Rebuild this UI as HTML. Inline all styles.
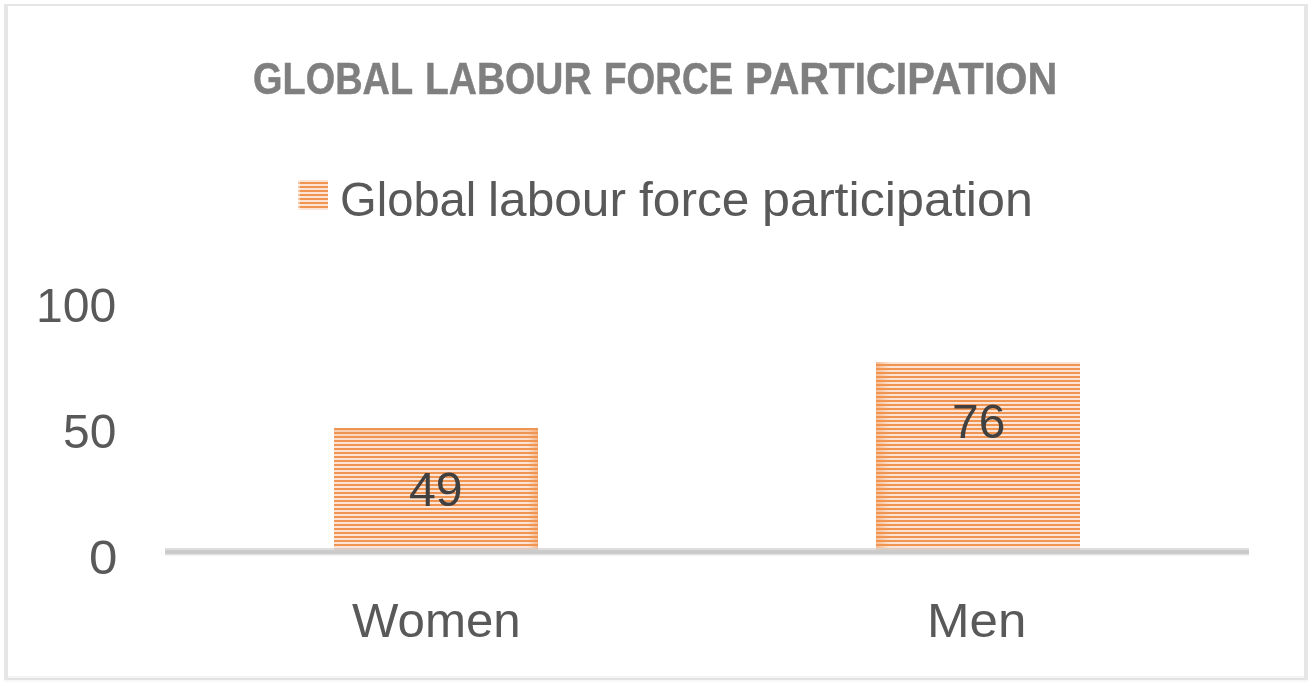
<!DOCTYPE html>
<html lang="en">
<head>
<meta charset="utf-8">
<title>Global labour force participation</title>
<style>
html,body{margin:0;padding:0;background:#fff;}
body{width:1312px;height:684px;position:relative;overflow:hidden;font-family:"Liberation Sans",sans-serif;}
.abs{position:absolute;}
.t{position:absolute;white-space:nowrap;line-height:1;transform-origin:0 0;color:#595959;font-size:49px;}
.title{font-weight:bold;color:#7f7f7f;font-size:44.5px;-webkit-text-stroke:0.5px #7f7f7f;}
.dl{color:#404040;}
#frame-l{left:4px;top:4px;width:4px;height:676px;background:#e6e6e6;}
#frame-r{left:1304px;top:4px;width:4px;height:676px;background:#e6e6e6;}
#frame-t{left:4px;top:4px;width:1304px;height:2px;background:#e6e6e6;}
#frame-b{left:4px;top:676px;width:1304px;height:6px;background:linear-gradient(#f4f4f4 0,#f4f4f4 2px,#e2e2e2 2px,#e2e2e2 4px,#f8f8f8 4px,#f8f8f8 6px);}
.stripes{background-image:repeating-linear-gradient(to bottom,#f09452 0,#f09452 2px,#fbe4d5 2px,#fbe4d5 4px);}
#swatch{left:298px;top:180px;width:30px;height:30px;background-image:linear-gradient(to right,rgba(255,255,255,.45) 0,rgba(255,255,255,.45) 2px,rgba(255,255,255,0) 2px),repeating-linear-gradient(to bottom,#fbe4d5 0,#fbe4d5 2px,#f09452 2px,#f09452 4px);}
#axis{left:165px;top:548px;width:1084px;height:8px;background:linear-gradient(#dedede 0,#dedede 2px,#cbcbcb 2px,#cbcbcb 6px,#e2e2e2 6px,#e2e2e2 7px,#f3f3f3 7px,#f3f3f3 8px);}
#bar1{left:334px;top:428px;width:204px;height:120px;}
#bar1:after{content:"";position:absolute;right:0;top:0;width:100%;height:100%;background:linear-gradient(to right,rgba(240,148,82,0) 194px,rgba(240,148,82,.55) 204px),linear-gradient(to bottom,rgba(240,148,82,.35),rgba(240,148,82,0) 14px);}
#bar2{left:876px;top:362px;width:204px;height:186px;background-image:repeating-linear-gradient(to bottom,#fbe4d5 0,#fbe4d5 2px,#f09452 2px,#f09452 4px);}
#bar2:after{content:"";position:absolute;left:0;top:0;width:14px;height:100%;background:linear-gradient(to left,rgba(240,148,82,0),rgba(240,148,82,.5));}
.foot{height:2px;top:548px;width:204px;background:#dccbc0;}
#foot1{left:334px;}
#foot2{left:876px;}

#tt1{left:252.80px;top:56.90px;transform:scaleX(0.8520);}
#tt2{left:425.00px;top:56.90px;transform:scaleX(0.8754);}
#tt3{left:604.00px;top:56.90px;transform:scaleX(0.8292);}
#tt4{left:744.80px;top:56.90px;transform:scaleX(0.9291);}
#lg1{left:340.00px;top:174.90px;transform:scaleX(0.9624);}
#lg2{left:488.40px;top:174.90px;transform:scaleX(1.0128);}
#lg3{left:639.00px;top:174.90px;transform:scaleX(1.0133);}
#lg4{left:761.80px;top:174.90px;transform:scaleX(1.0254);}
#y100{left:35.60px;top:280.90px;transform:scaleX(0.9826);}
#y50{left:63.00px;top:407.10px;transform:scaleX(0.9786);}
#y0{left:88.70px;top:532.90px;transform:scaleX(1.0422);}
#d49{left:409.20px;top:465.00px;transform:scaleX(0.9841);}
#d76{left:952.10px;top:396.90px;transform:scaleX(0.9786);}
#women{left:351.60px;top:595.90px;transform:scaleX(1.0049);}
#men{left:927.00px;top:595.90px;transform:scaleX(1.0434);}
</style>
</head>
<body>
<div class="abs" id="frame-t"></div>
<div class="abs" id="frame-b"></div>
<div class="abs" id="frame-l"></div>
<div class="abs" id="frame-r"></div>
<div class="abs" id="swatch"></div>
<div class="abs" id="axis"></div>
<div class="abs stripes" id="bar1"></div>
<div class="abs" id="bar2"></div>
<div class="abs foot" id="foot1"></div>
<div class="abs foot" id="foot2"></div>
<h1 style="margin:0;font-size:inherit;font-weight:inherit"><span class="t title" id="tt1">GLOBAL</span> <span class="t title" id="tt2">LABOUR</span> <span class="t title" id="tt3">FORCE</span> <span class="t title" id="tt4">PARTICIPATION</span></h1>
<div><span class="t" id="lg1">Global</span> <span class="t" id="lg2">labour</span> <span class="t" id="lg3">force</span> <span class="t" id="lg4">participation</span></div>
<div><span class="t" id="y100">100</span></div>
<div><span class="t" id="y50">50</span></div>
<div><span class="t" id="y0">0</span></div>
<div><span class="t dl" id="d49">49</span></div>
<div><span class="t dl" id="d76">76</span></div>
<div><span class="t" id="women">Women</span></div>
<div><span class="t" id="men">Men</span></div>

</body>
</html>
